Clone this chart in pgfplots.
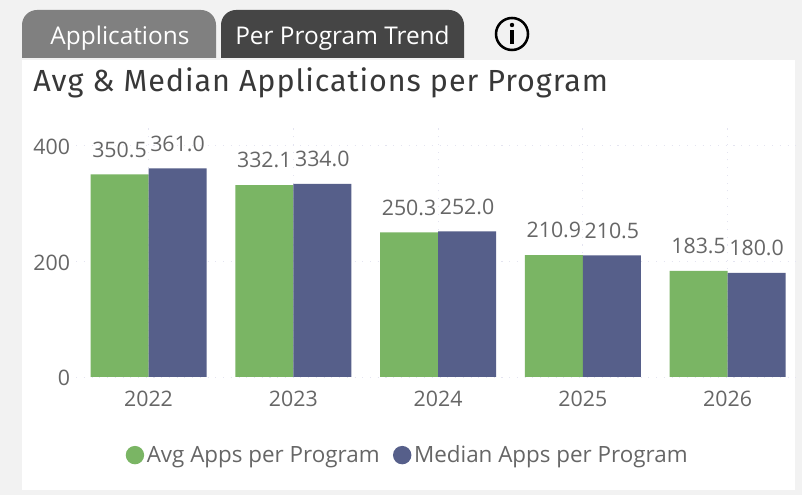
\documentclass[border=0pt]{standalone}
\usepackage{pgfplots}
\pgfplotsset{compat=1.18}
\usepackage{fontspec}
\setmainfont{Open Sans}
\newfontfamily\titlefont[LetterSpace=3]{Fira Sans}
\definecolor{barg}{HTML}{7AB564}
\definecolor{barb}{HTML}{565F8A}
\definecolor{txt}{HTML}{666666}
\definecolor{gridc}{HTML}{E4E4F0}
\pgfplotstableread{
idx avg med
0 350.5 361.0
1 332.1 334.0
2 250.3 252.0
3 210.9 210.5
4 183.5 180.0
}\datatab
\begin{document}
\begin{tikzpicture}[x=0.75pt,y=0.75pt]
% canvas, y measured from bottom: 495 - pixel row
\fill[black!5] (0,0) rectangle (802,495);
\fill[white] (22,5) rectangle (795,435);
\fill[black!50] (22,437) -- (22,470) arc[start angle=180,end angle=90,radius=15] -- (201,485) arc[start angle=90,end angle=0,radius=15] -- (216,437) -- cycle;
\fill[black!73] (221,437) -- (221,470) arc[start angle=180,end angle=90,radius=15] -- (449,485) arc[start angle=90,end angle=0,radius=15] -- (464,437) -- cycle;
\node[white,font=\fontsize{18.3}{20}\selectfont] at (120,456.5) {Applications};
\node[white,font=\fontsize{18.3}{20}\selectfont] at (342.5,456.5) {Per Program Trend};
\draw[black,line width=1.9pt] (512,461) circle (16);
\fill[black] (512,470) circle (2.2);
\fill[black] (510,450.5) rectangle (514,465);
\node[anchor=west,inner sep=0pt,text=black!78,font=\titlefont\fontsize{22.9}{26}\selectfont] at (33,412) {Avg \& Median Applications per Program};
\begin{axis}[
  at={(57.1pt,88.5pt)}, anchor=south west,
  scale only axis, width=542.9pt, height=189pt,
  xmin=-0.5, xmax=4.5, ymin=0, ymax=436,
  axis line style={draw=none}, tick style={draw=none},
  xtick=data, xticklabels={2022,2023,2024,2025,2026},
  ytick={0,200,400},
  /pgf/number format/assume math mode=true,
  tick label style={text=txt,font=\fontsize{16}{18}\selectfont},
  yticklabel style={xshift=-1pt,yshift=-0.8pt},
  xticklabel style={yshift=-2.5pt},
  grid=major, axis on top=false,
  grid style={gridc,line width=0.7pt,dash pattern=on 0.8pt off 5pt},
  clip=false,
  ybar, bar width=43.5pt,
  nodes near coords, 
  point meta=explicit symbolic,
  every node near coord/.append style={text=txt,font=\fontsize{16}{18}\selectfont,inner sep=0pt,yshift=12.5pt,anchor=south},
  legend columns=2,
  legend style={at={(0.4585,-0.31)},anchor=center,draw=none,fill=none,
    font=\fontsize{16.8}{18}\selectfont,text=txt,inner sep=0pt,
    /tikz/every even column/.append style={column sep=8pt}},
  legend image code/.code={\fill[#1] (0pt,0pt) circle (6.9pt);},
]
\addplot[fill=barg,draw=none,bar shift=-21.75pt] table[x=idx,y=avg,meta=avg] {\datatab};
\addplot[fill=barb,draw=none,bar shift=21.75pt] table[x=idx,y=med,meta=med] {\datatab};
\legend{Avg Apps per Program,Median Apps per Program}
\end{axis}
\end{tikzpicture}
\end{document}
